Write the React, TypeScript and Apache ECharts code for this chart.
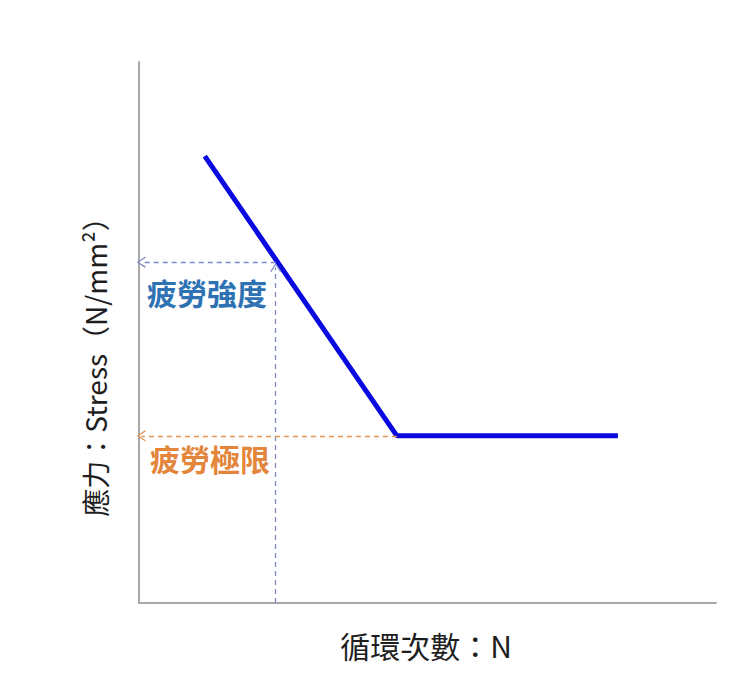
import React, { useEffect, useRef } from 'react';
import * as echarts from 'echarts';

// S-N 曲線 (軸 0-100 的相對刻度)
const cycles = [11.4, 44.7, 83.0];
const stress = [82.6, 30.9, 30.9];

// 疲勞強度 / 疲勞極限
const strengthPoint = [23.7, 63.0];
const limitPoint = [44.7, 30.9];

const strengthLabel = '疲勞強度';
const limitLabel = '疲勞極限';
const xName = '循環次數：N';
const yName = '應力：Stress（N/mm²）';

const FONT = '"Noto Sans CJK TC", "Noto Sans CJK SC", sans-serif';
const ARROW = 'path://M5,0 L10,9 L9,10 L5,2 L1,10 L0,9 Z';

const App: React.FC = () => {
  const chartRef = useRef<HTMLDivElement>(null);

  useEffect(() => {
    if (!chartRef.current) return;
    const chart = echarts.init(chartRef.current, undefined, { renderer: 'svg' });

    const blueDash = { color: '#7c87c6', type: [5, 4] as number[], width: 1.3 };
    const orangeDash = { color: '#e39452', type: [5, 4] as number[], width: 1.3 };

    const option = {
      animation: false,
      backgroundColor: '#ffffff',
      grid: { left: 139, top: 62, right: 24, bottom: 82 },
      xAxis: {
        type: 'value',
        min: 0,
        max: 100,
        axisLine: { show: true, lineStyle: { color: '#a8a8a8', width: 2 } },
        axisTick: { show: false },
        axisLabel: { show: false },
        splitLine: { show: false }
      },
      yAxis: {
        type: 'value',
        min: 0,
        max: 100,
        axisLine: { show: true, lineStyle: { color: '#a8a8a8', width: 2 } },
        axisTick: { show: false },
        axisLabel: { show: false },
        splitLine: { show: false }
      },
      series: [
        {
          type: 'line',
          data: cycles.map((c, i) => [c, stress[i]]),
          symbol: 'none',
          lineStyle: { color: '#0a0ae0', width: 5 },
          z: 3,
          markLine: {
            silent: true,
            symbol: ['none', ARROW],
            symbolSize: [11, 9],
            label: { show: false },
            data: [
              [
                { coord: [strengthPoint[0], 0], lineStyle: blueDash },
                { coord: [strengthPoint[0], strengthPoint[1] - 1] }
              ],
              [
                { coord: [strengthPoint[0], strengthPoint[1]], lineStyle: blueDash },
                { coord: [0.4, strengthPoint[1]] }
              ],
              [
                { coord: [limitPoint[0], limitPoint[1]], lineStyle: orangeDash },
                { coord: [0.4, limitPoint[1]] }
              ]
            ]
          }
        }
      ],
      graphic: [
        {
          type: 'text',
          left: 147,
          top: 277,
          style: { text: strengthLabel, fill: '#2e72b4', font: `bold 30px ${FONT}` }
        },
        {
          type: 'text',
          left: 150,
          top: 443,
          style: { text: limitLabel, fill: '#e3853a', font: `bold 30px ${FONT}` }
        },
        {
          type: 'text',
          x: 95,
          y: 360,
          rotation: Math.PI / 2,
          style: {
            text: yName,
            fill: '#1e1e1e',
            font: `28px ${FONT}`,
            align: 'center',
            verticalAlign: 'middle'
          }
        },
        {
          type: 'text',
          x: 426,
          y: 645,
          style: {
            text: xName,
            fill: '#1e1e1e',
            font: `30px ${FONT}`,
            align: 'center',
            verticalAlign: 'middle'
          }
        }
      ]
    };

    chart.setOption(option);
    return () => chart.dispose();
  }, []);

  return (
    <div
      ref={chartRef}
      style={{ position: 'fixed', left: 0, top: 0, width: 740, height: 685, background: '#fff' }}
    />
  );
};

export default App;
